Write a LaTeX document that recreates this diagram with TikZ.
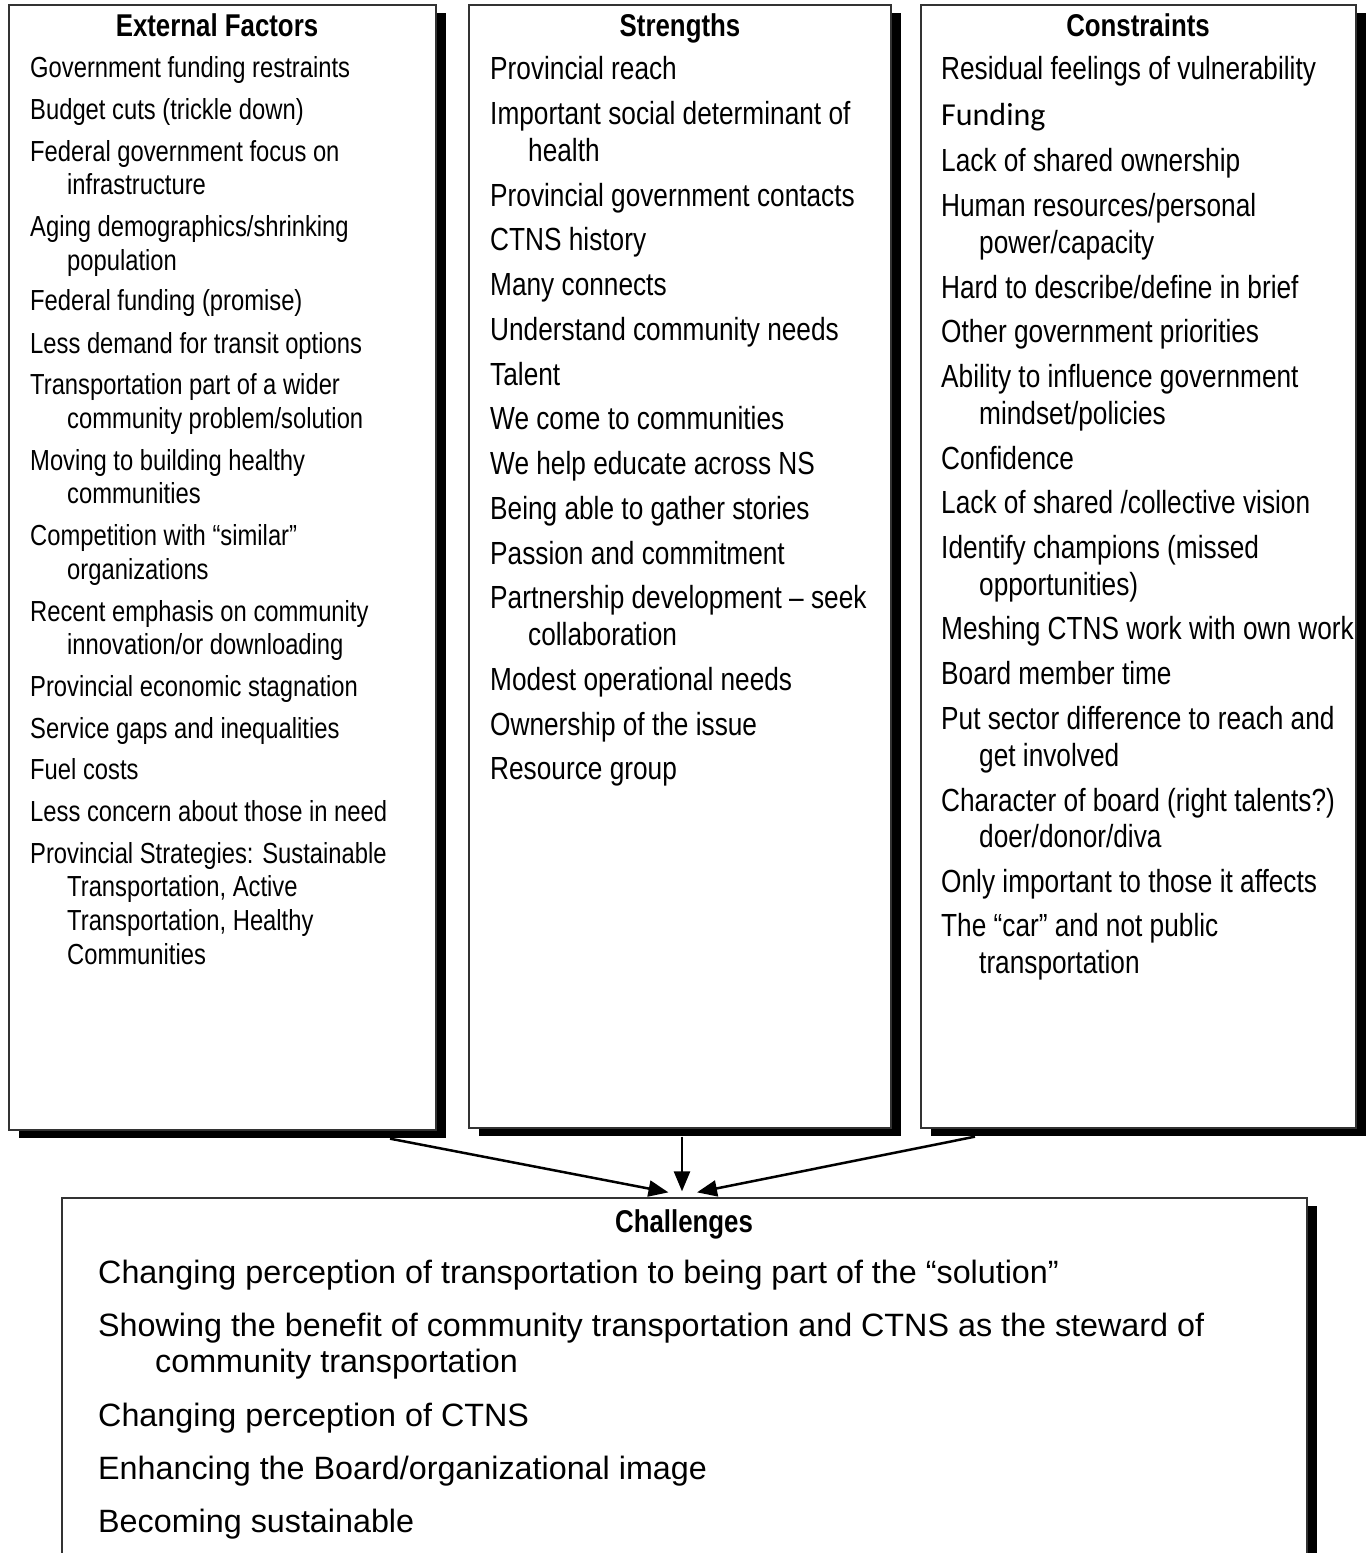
\documentclass[tikz,border=0pt]{standalone}
\usepackage{fontspec}
\setmainfont{Liberation Sans}[FakeStretch=0.82]
\newfontfamily\calib{Carlito}
\newfontfamily\regfont{Liberation Sans}
\usetikzlibrary{arrows.meta,shadows}
\tikzset{
  panel/.style={draw=black!80, line width=1.3pt, fill=white, rectangle, inner sep=0pt,
    drop shadow={shadow xshift=10pt, shadow yshift=-8pt, fill=black, opacity=1}},
  ttl/.style={font=\bfseries\fontsize{31.5}{36}\selectfont, anchor=base, inner sep=0pt},
  ia/.style={anchor=base west, inner sep=0pt, font=\fontsize{29}{33}\selectfont},
  ib/.style={anchor=base west, inner sep=0pt, font=\fontsize{32}{37}\selectfont},
  ic/.style={anchor=base west, inner sep=0pt, font=\regfont\fontsize{32.3}{37}\selectfont},
  arr/.style={line width=2.5pt, -{Triangle[length=20pt,width=16pt]}},
}
\begin{document}
\begin{tikzpicture}[x=1pt,y=-1pt]
\useasboundingbox (0,0) rectangle (1366,1553);
\clip (0,0) rectangle (1366,1553);
% panels
\node[panel, minimum width=427pt, minimum height=1125pt] (ext) at (222.5,567.5) {};
\node[panel, minimum width=422pt, minimum height=1123pt] (str) at (680,566.5) {};
\node[panel, minimum width=435pt, minimum height=1123pt] (con) at (1138.5,566.5) {};
\node[panel, minimum width=1245pt, minimum height=420pt] (chal) at (684.5,1408) {};
% titles
\node[ttl] (extT) at (217,36) {External Factors};
\node[ttl] (strT) at (680,36) {Strengths};
\node[ttl] (conT) at (1138,36) {Constraints};
\node[ttl] (chalT) at (684,1232) {Challenges};
% External Factors
\node[ia] (e1) at (30,77) {Government funding restraints};
\node[ia] (e2) at (30,119) {Budget cuts (trickle down)};
\node[ia] (e3) at (30,161) {Federal government focus on};
\node[ia] (e3b) at (67,194) {infrastructure};
\node[ia] (e4) at (30,236) {Aging demographics/shrinking};
\node[ia] (e4b) at (67,270) {population};
\node[ia] (e5) at (30,310) {Federal funding (promise)};
\node[ia] (e6) at (30,353) {Less demand for transit options};
\node[ia] (e7) at (30,394) {Transportation part of a wider};
\node[ia] (e7b) at (67,428) {community problem/solution};
\node[ia] (e8) at (30,470) {Moving to building healthy};
\node[ia] (e8b) at (67,503) {communities};
\node[ia] (e9) at (30,545) {Competition with “similar”};
\node[ia] (e9b) at (67,579) {organizations};
\node[ia] (e10) at (30,621) {Recent emphasis on community};
\node[ia] (e10b) at (67,654) {innovation/or downloading};
\node[ia] (e11) at (30,696) {Provincial economic stagnation};
\node[ia] (e12) at (30,738) {Service gaps and inequalities};
\node[ia] (e13) at (30,779) {Fuel costs};
\node[ia] (e14) at (30,821) {Less concern about those in need};
\node[ia] (e15) at (30,863) {Provincial Strategies: Sustainable};
\node[ia] (e15b) at (67,896) {Transportation, Active};
\node[ia] (e15c) at (67,930) {Transportation, Healthy};
\node[ia] (e15d) at (67,964) {Communities};
% Strengths
\node[ib] (s1) at (490,79) {Provincial reach};
\node[ib] (s2) at (490,124) {Important social determinant of};
\node[ib] (s2b) at (528,161) {health};
\node[ib] (s3) at (490,206) {Provincial government contacts};
\node[ib] (s4) at (490,250) {CTNS history};
\node[ib] (s5) at (490,295) {Many connects};
\node[ib] (s6) at (490,340) {Understand community needs};
\node[ib] (s7) at (490,385) {Talent};
\node[ib] (s8) at (490,429) {We come to communities};
\node[ib] (s9) at (490,474) {We help educate across NS};
\node[ib] (s10) at (490,519) {Being able to gather stories};
\node[ib] (s11) at (490,564) {Passion and commitment};
\node[ib] (s12) at (490,608) {Partnership development – seek};
\node[ib] (s12b) at (528,645) {collaboration};
\node[ib] (s13) at (490,690) {Modest operational needs};
\node[ib] (s14) at (490,735) {Ownership of the issue};
\node[ib] (s15) at (490,779) {Resource group};
% Constraints
\node[ib] (c1) at (941,79) {Residual feelings of vulnerability};
\node[ib, font=\calib\fontsize{32}{37}\selectfont] (c2) at (941,125) {Funding};
\node[ib] (c3) at (941,171) {Lack of shared ownership};
\node[ib] (c4) at (941,216) {Human resources/personal};
\node[ib] (c4b) at (979,253) {power/capacity};
\node[ib] (c5) at (941,298) {Hard to describe/define in brief};
\node[ib] (c6) at (941,342) {Other government priorities};
\node[ib] (c7) at (941,387) {Ability to influence government};
\node[ib] (c7b) at (979,424) {mindset/policies};
\node[ib] (c8) at (941,469) {Confidence};
\node[ib] (c9) at (941,513) {Lack of shared /collective vision};
\node[ib] (c10) at (941,558) {Identify champions (missed};
\node[ib] (c10b) at (979,595) {opportunities)};
\node[ib] (c11) at (941,639) {Meshing CTNS work with own work};
\node[ib] (c12) at (941,684) {Board member time};
\node[ib] (c13) at (941,729) {Put sector difference to reach and};
\node[ib] (c13b) at (979,766) {get involved};
\node[ib] (c14) at (941,811) {Character of board (right talents?)};
\node[ib] (c14b) at (979,847) {doer/donor/diva};
\node[ib] (c15) at (941,892) {Only important to those it affects};
\node[ib] (c16) at (941,936) {The “car” and not public};
\node[ib] (c16b) at (979,973) {transportation};
% Challenges
\node[ic] (h1) at (98,1283) {Changing perception of transportation to being part of the “solution”};
\node[ic] (h2) at (98,1336) {Showing the benefit of community transportation and CTNS as the steward of};
\node[ic] (h2b) at (155,1372) {community transportation};
\node[ic] (h3) at (98,1426) {Changing perception of CTNS};
\node[ic] (h4) at (98,1479) {Enhancing the Board/organizational image};
\node[ic] (h5) at (98,1532) {Becoming sustainable};
% connectors
\draw[arr] ([xshift=167.5pt,yshift=-8pt]ext.south) -- ([xshift=-16pt,yshift=5pt]chal.north);
\draw[arr] ([xshift=2pt,yshift=-8pt]str.south) -- ([xshift=-2.5pt,yshift=6pt]chal.north);
\draw[arr] ([xshift=-163.5pt,yshift=-8pt]con.south) -- ([xshift=12.5pt,yshift=5pt]chal.north);
\end{tikzpicture}
\end{document}
